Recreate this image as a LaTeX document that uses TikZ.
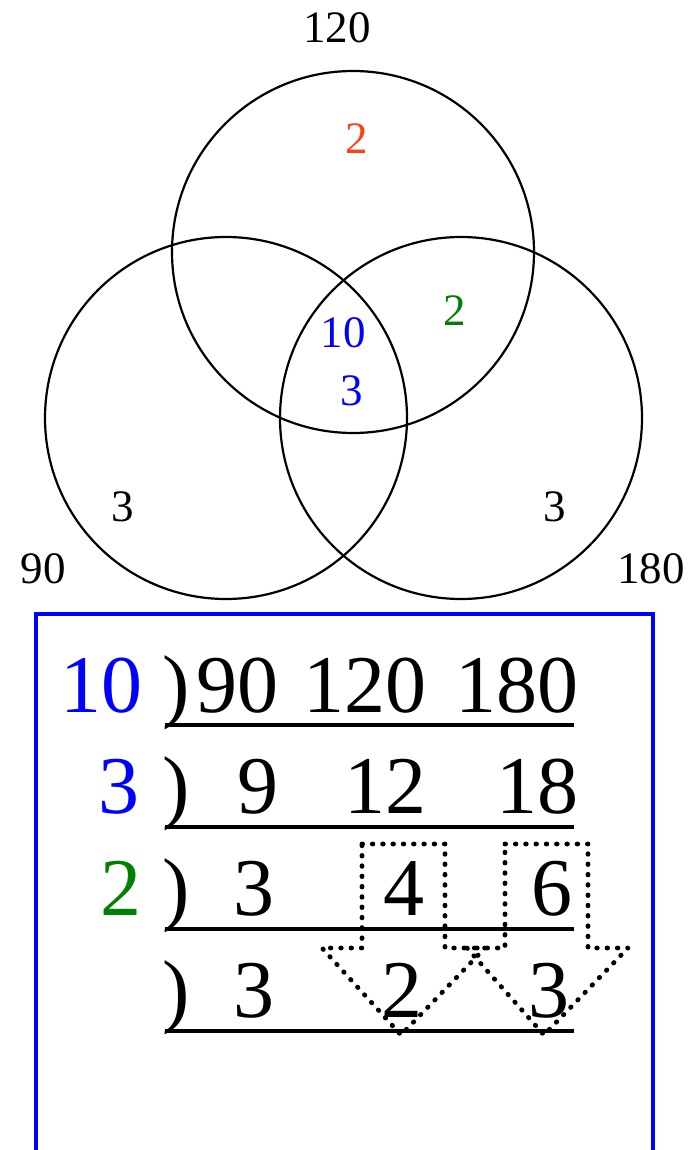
\documentclass[tikz,border=0pt]{standalone}
\usepackage{fontspec}
\setmainfont{Liberation Serif}
\definecolor{vred}{RGB}{255,64,16}
\definecolor{vgreen}{RGB}{0,128,0}
\definecolor{vblue}{RGB}{0,0,255}
\begin{document}
\begin{tikzpicture}[x=1pt,y=-1pt,
  venn/.style={draw=black,line width=2.2pt,circle,minimum size=362pt,inner sep=0pt},
  vlab/.style={inner sep=0pt,font=\fontsize{45}{50}\selectfont},
  tnum/.style={inner sep=0pt,anchor=base east,font=\fontsize{82}{90}\selectfont},
  paren/.style={inner sep=0pt,anchor=base west,font=\fontsize{82}{90}\selectfont},
  uline/.style={line width=3.6pt},
  frame/.style={draw=vblue,line width=4.5pt},
  dotarrow/.style={line width=4.8pt,dash pattern=on 0.6pt off 9.7pt,line cap=round,line join=round}]
\useasboundingbox (0,0) rectangle (695,1150);
% Venn diagram
\node[venn] (C120) at (353,252) {};
\node[venn] (C90) at (226,418) {};
\node[venn] (C180) at (461,418) {};
\node[vlab] (L120) at (337,28) {120};
\node[vlab] (L90) at (43,569) {90};
\node[vlab] (L180) at (651,569) {180};
\node[vlab,text=vred] (r2) at (357,139) {2};
\node[vlab,text=vgreen] (g2) at (455,311) {2};
\node[vlab,text=vblue] (b10) at (343,333) {10};
\node[vlab,text=vblue] (b3) at (352,391) {3};
\node[vlab] (k3a) at (123,507) {3};
\node[vlab] (k3b) at (555,507) {3};
% frame
\coordinate (F1) at (36,1152);
\coordinate (F2) at (36,614);
\coordinate (F3) at (653,614);
\coordinate (F4) at (653,1152);
\draw[frame] (F1) -- (F2) -- (F3) -- (F4);
% divisors
\node[tnum,text=vblue] (d10) at (143,712) {10};
\node[tnum,text=vblue] (d3) at (140,813) {3};
\node[tnum,text=vgreen] (d2) at (142,915) {2};
% parentheses
\node[paren] (p1) at (162,712) {)};
\node[paren] (p2) at (162,813) {)};
\node[paren] (p3) at (162,915) {)};
\node[paren] (p4) at (162,1017) {)};
% row 1
\node[tnum] (n11) at (279,712) {90};
\node[tnum] (n12) at (427,712) {120};
\node[tnum] (n13) at (579,712) {180};
% row 2
\node[tnum] (n21) at (279,813) {9};
\node[tnum] (n22) at (427,813) {12};
\node[tnum] (n23) at (579,813) {18};
% row 3
\node[tnum] (n31) at (275,915) {3};
\node[tnum] (n32) at (425,915) {4};
\node[tnum] (n33) at (573,915) {6};
% row 4
\node[tnum] (n41) at (275,1017) {3};
\node[tnum] (n42) at (423,1017) {2};
\node[tnum] (n43) at (570,1017) {3};
% underlines
\foreach \yy/\nm in {725/a,827/b,929/c,1031/d}{
  \coordinate (u\nm1) at (165,\yy);
  \coordinate (u\nm2) at (574,\yy);
  \draw[uline] (u\nm1) -- (u\nm2);
}
% dotted block arrows
\draw[dotarrow] (362,844) -- (445,844) -- (445,948) -- (485,948) -- (401,1035) -- (322,948) -- (362,948) -- cycle;
\draw[dotarrow] (505,844) -- (588,844) -- (588,948) -- (628,948) -- (544,1035) -- (467,948) -- (505,948) -- cycle;
\end{tikzpicture}
\end{document}
